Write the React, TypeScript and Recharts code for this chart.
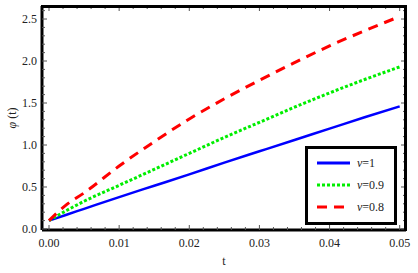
import React from "react";
import {
  LineChart,
  Line,
  XAxis,
  YAxis,
  Label,
} from "recharts";

// t values and phi(t)
const tValues = [0, 0.0025, 0.005, 0.01, 0.015, 0.02, 0.025, 0.03, 0.035, 0.04, 0.045, 0.05];
const nu1 = [0.1, 0.17, 0.24, 0.38, 0.515, 0.65, 0.79, 0.925, 1.06, 1.195, 1.33, 1.46];
const nu09 = [0.1, 0.22, 0.33, 0.52, 0.71, 0.9, 1.09, 1.27, 1.45, 1.62, 1.78, 1.93];
const nu08 = [0.1, 0.29, 0.43, 0.75, 1.04, 1.31, 1.55, 1.77, 1.98, 2.18, 2.36, 2.53];

const xTicks = [0, 0.002, 0.004, 0.006, 0.008, 0.01, 0.012, 0.014, 0.016, 0.018, 0.02, 0.022, 0.024, 0.026, 0.028, 0.03, 0.032, 0.034, 0.036, 0.038, 0.04, 0.042, 0.044, 0.046, 0.048, 0.05];
const yTicks = [0, 0.1, 0.2, 0.3, 0.4, 0.5, 0.6, 0.7, 0.8, 0.9, 1, 1.1, 1.2, 1.3, 1.4, 1.5, 1.6, 1.7, 1.8, 1.9, 2, 2.1, 2.2, 2.3, 2.4, 2.5, 2.6];

const data = tValues.map((t, i) => ({ t, a: nu1[i], b: nu09[i], c: nu08[i] }));

// layout
const W = 418;
const H = 273;
const M = { top: 6, right: 12, left: 0, bottom: 0 };
const Y_AXIS_W = 42;
const X_AXIS_H = 43;
const PLOT_W = W - M.left - M.right - Y_AXIS_W;
const PLOT_H = H - M.top - M.bottom - X_AXIS_H;

const font = "'Liberation Serif', 'DejaVu Serif', serif";

const isMajor = (v: number, step: number) => Math.abs(v / step - Math.round(v / step)) < 1e-6;

// bottom tick also mirrors an inward tick onto the top frame edge
const BottomTick = (props: any) => {
  const { x, y, payload } = props;
  const major = isMajor(payload.value, 0.01);
  const len = major ? 5 : 3;
  const top = y - PLOT_H;
  return (
    <g>
      <line x1={x} x2={x} y1={y} y2={y - len} stroke="#555" strokeWidth={1} />
      <line x1={x} x2={x} y1={top} y2={top + len} stroke="#555" strokeWidth={1} />
      {major && (
        <text x={x} y={y + 17} textAnchor="middle" fontFamily={font} fontSize={12} fill="#222">
          {payload.value.toFixed(2)}
        </text>
      )}
    </g>
  );
};

// left tick also mirrors an inward tick onto the right frame edge
const LeftTick = (props: any) => {
  const { x, y, payload } = props;
  const major = isMajor(payload.value, 0.5);
  const len = major ? 5 : 3;
  const right = x + PLOT_W;
  return (
    <g>
      <line x1={x} x2={x + len} y1={y} y2={y} stroke="#555" strokeWidth={1} />
      <line x1={right} x2={right - len} y1={y} y2={y} stroke="#555" strokeWidth={1} />
      {major && (
        <text x={x - 5} y={y + 4} textAnchor="end" fontFamily={font} fontSize={12} fill="#222">
          {payload.value.toFixed(1)}
        </text>
      )}
    </g>
  );
};

const legendItems = [
  { label: "1", color: "#0000ff", dash: undefined },
  { label: "0.9", color: "#00ee00", dash: "3 2" },
  { label: "0.8", color: "#ff0000", dash: "10 7" },
];

const LegendBox = () => (
  <div
    style={{
      position: "absolute",
      left: 305,
      top: 146,
      width: 86,
      height: 73,
      border: "3px solid #000",
      background: "#fff",
      zIndex: 3,
    }}
  >
    <svg width={86} height={73} style={{ display: "block" }}>
      {legendItems.map((it, i) => (
        <g key={it.label}>
          <line
            x1={9}
            x2={42}
            y1={14 + i * 22}
            y2={14 + i * 22}
            stroke={it.color}
            strokeWidth={3}
            strokeDasharray={it.dash}
          />
          <text x={49} y={18 + i * 22} fontFamily={font} fontSize={12} fill="#222">
            <tspan fontStyle="italic">ν</tspan>={it.label}
          </text>
        </g>
      ))}
    </svg>
  </div>
);

// top and right edges of the plot frame
const FrameEdges = () => (
  <div
    style={{
      position: "absolute",
      left: M.left + Y_AXIS_W - 1,
      top: M.top - 1,
      width: PLOT_W + 2,
      height: PLOT_H + 2,
      boxSizing: "border-box",
      borderTop: "3px solid #000",
      borderRight: "3px solid #000",
      pointerEvents: "none",
      zIndex: 2,
    }}
  />
);

export default function App() {
  return (
    <div style={{ position: "absolute", left: 0, top: 0, width: W, height: H, background: "#fff" }}>
      <LineChart width={W} height={H} data={data} margin={M}>
        <XAxis
          dataKey="t"
          type="number"
          domain={[-0.001, 0.0509]}
          ticks={xTicks}
          interval={0}
          height={X_AXIS_H}
          tickSize={0}
          tickMargin={0}
          tickLine={false}
          axisLine={{ stroke: "#000", strokeWidth: 3 }}
          tick={<BottomTick />}
        >
          <Label
            content={({ viewBox }: any) => (
              <text
                x={viewBox.x + viewBox.width / 2}
                y={viewBox.y + 35}
                textAnchor="middle"
                fontFamily={font}
                fontSize={12}
                fill="#222"
              >
                t
              </text>
            )}
          />
        </XAxis>
        <YAxis
          type="number"
          domain={[-0.012, 2.655]}
          ticks={yTicks}
          interval={0}
          width={Y_AXIS_W}
          tickSize={0}
          tickMargin={0}
          tickLine={false}
          axisLine={{ stroke: "#000", strokeWidth: 3 }}
          tick={<LeftTick />}
        >
          <Label
            content={({ viewBox }: any) => {
              const cx = viewBox.x + 16;
              const cy = viewBox.y + viewBox.height / 2;
              return (
                <text
                  x={cx}
                  y={cy}
                  transform={`rotate(-90 ${cx} ${cy})`}
                  textAnchor="middle"
                  fontFamily={font}
                  fontSize={12}
                  fill="#222"
                >
                  <tspan fontStyle="italic">φ</tspan> (t)
                </text>
              );
            }}
          />
        </YAxis>
        <Line type="monotone" dataKey="a" stroke="#0000ff" strokeWidth={2.5} dot={false} isAnimationActive={false} />
        <Line type="monotone" dataKey="b" stroke="#00ee00" strokeWidth={3} strokeDasharray="3 2" dot={false} isAnimationActive={false} />
        <Line type="monotone" dataKey="c" stroke="#ff0000" strokeWidth={3} strokeDasharray="10 7" dot={false} isAnimationActive={false} />
      </LineChart>
      <FrameEdges />
      <LegendBox />
    </div>
  );
}
